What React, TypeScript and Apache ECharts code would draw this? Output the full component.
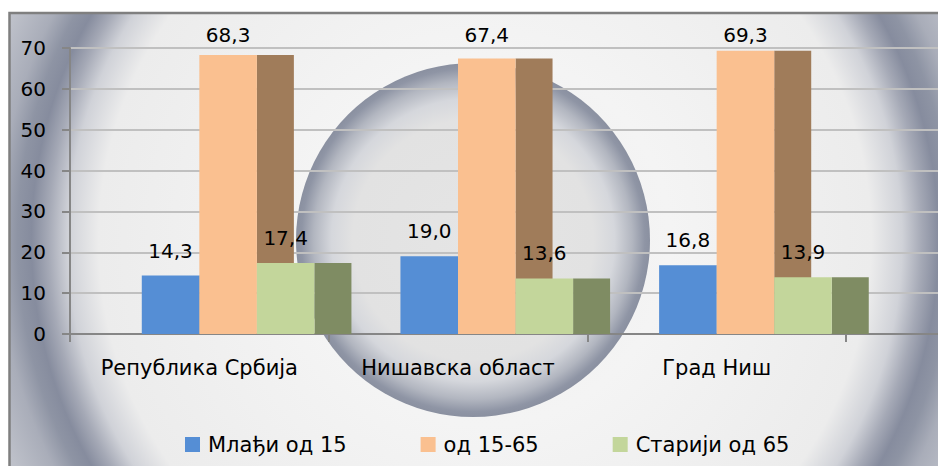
import React, { useEffect, useRef } from "react";
import * as echarts from "echarts";

const categories = ["Република Србија", "Нишавска област", "Град Ниш"];
const seriesNames = ["Млађи од 15", "од 15-65", "Старији од 65"];
const youngValues = [14.3, 19.0, 16.8];
const workingValues = [68.3, 67.4, 69.3];
const oldValues = [17.4, 13.6, 13.9];
const yTicks = { min: 0, max: 70, interval: 10 };

const FONT = "DejaVu Sans";
const FS = 20;

function makeSeries(name: string, values: number[], slot: number, front: string, side: string) {
  return {
    type: "custom",
    name,
    xAxisIndex: 1,
    yAxisIndex: 1,
    itemStyle: { color: front },
    data: values.map((v, i) => [i, v]),
    renderItem: (params: any, api: any) => {
      const ci = api.value(0);
      const val = api.value(1);
      const base = api.coord([ci, 0]);
      const top = api.coord([ci, val]);
      const band = api.size([1, 0])[0];
      const fw = band * 0.2225;
      const sw = band * 0.143;
      const x0 = base[0] + (slot - 1) * fw;
      const h = base[1] - top[1];
      return {
        type: "group",
        children: [
          { type: "rect", shape: { x: x0 + fw, y: top[1], width: sw, height: h }, style: { fill: side } },
          { type: "rect", shape: { x: x0, y: top[1], width: fw, height: h }, style: { fill: front } },
          {
            type: "text",
            style: {
              text: val.toFixed(1).replace(".", ","),
              x: x0 + fw / 2,
              y: Math.max(top[1] - 25, 35),
              align: "center",
              verticalAlign: "middle",
              fontFamily: FONT,
              fontSize: FS,
              fill: "#000",
            },
          },
        ],
      };
    },
  };
}

export default function App() {
  const ref = useRef<HTMLDivElement>(null);
  useEffect(() => {
    const chart = echarts.init(ref.current!, null, { renderer: "svg" });
    chart.setOption({
      animation: false,
      backgroundColor: "#ffffff",
      textStyle: { fontFamily: FONT },
      graphic: {
        elements: [
          {
            type: "rect",
            z: -20,
            shape: { x: 9.5, y: 13, width: 940, height: 460 },
            style: {
              stroke: "#7f7f7f",
              lineWidth: 2.5,
              fill: {
                type: "radial",
                x: 485,
                y: 240,
                r: 560,
                global: true,
                colorStops: [
                  { offset: 0, color: "#eeeeee" },
                  { offset: 0.33, color: "#f4f4f4" },
                  { offset: 0.69, color: "#ececec" },
                  { offset: 0.745, color: "#d0d2d8" },
                  { offset: 0.78, color: "#a5a9b6" },
                  { offset: 0.81, color: "#868c9e" },
                  { offset: 0.835, color: "#8e94a4" },
                  { offset: 0.87, color: "#a9adb9" },
                  { offset: 0.93, color: "#bdc0c9" },
                  { offset: 1, color: "#c8cbd2" },
                ],
              },
            },
          },
          {
            type: "circle",
            z: -19,
            shape: { cx: 473, cy: 240, r: 177 },
            style: {
              fill: {
                type: "radial",
                x: 0.5,
                y: 0.5,
                r: 0.5,
                colorStops: [
                  { offset: 0, color: "#e5e5e5" },
                  { offset: 0.68, color: "#e2e2e2" },
                  { offset: 0.8, color: "#d5d7dc" },
                  { offset: 0.9, color: "#b2b6c0" },
                  { offset: 0.97, color: "#8f95a5" },
                  { offset: 1, color: "#8a90a0" },
                ],
              },
            },
          },
        ],
      },
      legend: {
        left: 180,
        top: 429,
        icon: "rect",
        itemWidth: 15,
        itemHeight: 15,
        itemGap: 74,
        textStyle: { fontFamily: FONT, fontSize: FS + 1, color: "#000", padding: [0, 0, 0, 3] },
        data: seriesNames,
      },
      grid: [
        { left: 70, right: 0, top: 48, bottom: 132 },
        { left: 70, right: 92, top: 48, bottom: 132 },
      ],
      xAxis: [
        {
          type: "value",
          gridIndex: 0,
          min: 0,
          max: 1,
          axisLine: { show: true, lineStyle: { color: "#868686", width: 2 } },
          axisTick: { show: false },
          axisLabel: { show: false },
          splitLine: { show: false },
        },
        {
          type: "category",
          gridIndex: 1,
          data: categories,
          axisLine: { show: false },
          axisTick: { show: true, length: 8, lineStyle: { color: "#868686", width: 2 } },
          axisLabel: { margin: 23, fontFamily: FONT, fontSize: FS + 1, color: "#000" },
        },
      ],
      yAxis: [
        {
          type: "value",
          gridIndex: 0,
          min: yTicks.min,
          max: yTicks.max,
          interval: yTicks.interval,
          axisLine: { show: true, lineStyle: { color: "#868686", width: 2 } },
          axisTick: { show: true, length: 8, lineStyle: { color: "#868686", width: 2 } },
          axisLabel: { margin: 24, fontFamily: FONT, fontSize: FS, color: "#000" },
          splitLine: { show: true, lineStyle: { color: "#c0c0c0", width: 2 } },
        },
        {
          type: "value",
          gridIndex: 1,
          min: yTicks.min,
          max: yTicks.max,
          interval: yTicks.interval,
          show: false,
        },
      ],
      series: [
        makeSeries(seriesNames[0], youngValues, 0, "#558ed5", "#3a6aa5"),
        makeSeries(seriesNames[1], workingValues, 1, "#fac090", "#a07c5a"),
        makeSeries(seriesNames[2], oldValues, 2, "#c3d69b", "#7f8c63"),
      ],
    });
    return () => chart.dispose();
  }, []);
  return (
    <div
      ref={ref}
      style={{ position: "absolute", left: 0, top: 0, width: 938, height: 466 }}
    />
  );
}
